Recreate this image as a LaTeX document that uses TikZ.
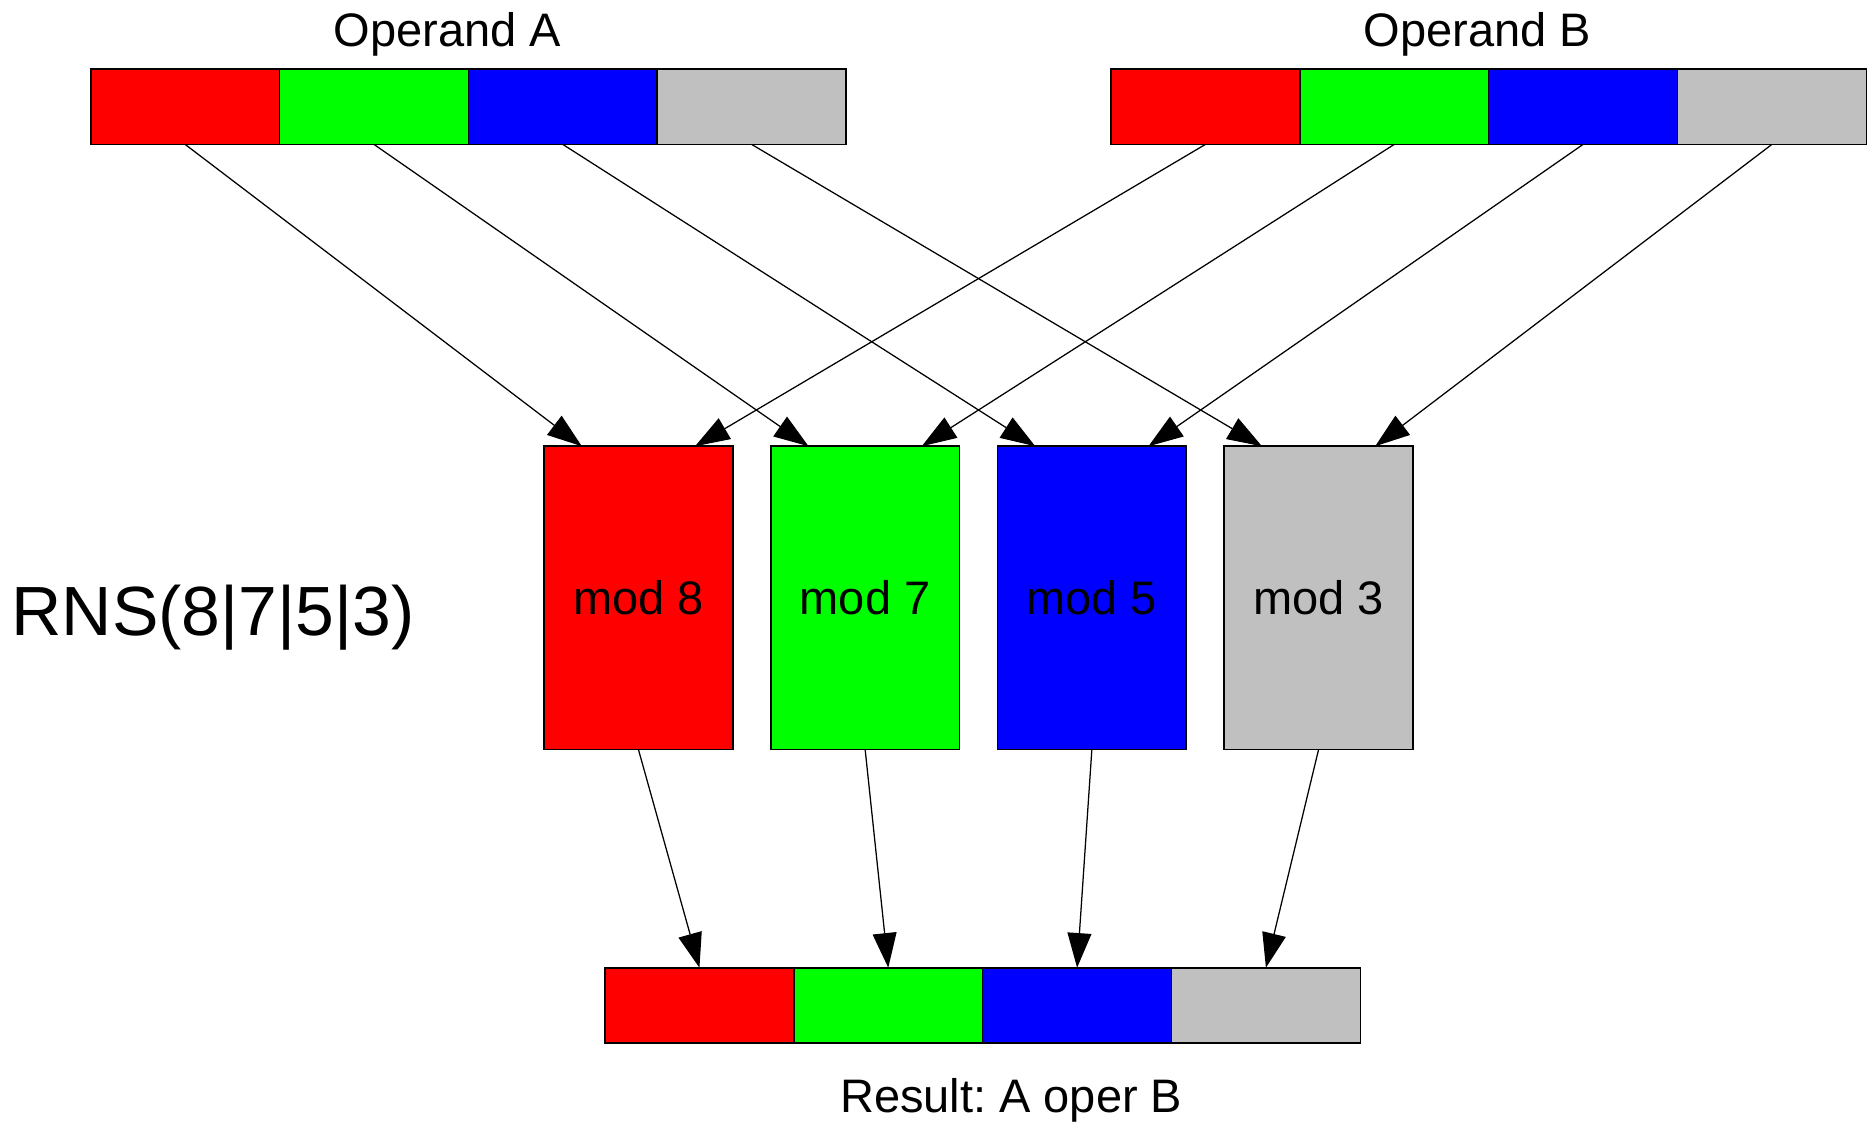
\documentclass[tikz,border=0pt]{standalone}
\usepackage{fontspec}
\setmainfont{Liberation Sans}
\usetikzlibrary{arrows.meta,calc}
\definecolor{resred}{RGB}{255,0,0}
\definecolor{resgreen}{RGB}{0,255,0}
\definecolor{resblue}{RGB}{0,0,255}
\definecolor{resgray}{RGB}{192,192,192}
\frenchspacing
\begin{document}
\begin{tikzpicture}[x=0.01cm,y=-0.01cm,
  seg/.style={draw=black, line width=0.4pt, minimum width=1.5825cm,
    minimum height=0.63cm, inner sep=0pt, outer sep=0pt, anchor=north west},
  modbox/.style={draw=black, line width=0.4pt, minimum width=1.58cm,
    minimum height=2.54cm, inner sep=0pt, outer sep=0pt, anchor=north west,
    font=\fontsize{11.2pt}{13pt}\selectfont},
  lbl/.style={font=\fontsize{11.2pt}{13pt}\selectfont, inner sep=0pt, anchor=base},
  conn/.style={line width=0.3pt, -{Triangle[length=2.9mm,width=2.0mm]}}
]
\useasboundingbox (0,0) rectangle (1568,940);

% operand A register
\foreach \i/\c in {1/resred,2/resgreen,3/resblue,4/resgray}
  \node[seg, fill=\c] (a\i) at ({76+158.25*(\i-1)},58) {};
% operand B register
\foreach \i/\c in {1/resred,2/resgreen,3/resblue,4/resgray}
  \node[seg, fill=\c] (b\i) at ({931+158.25*(\i-1)},58) {};
% result register
\foreach \i/\c in {1/resred,2/resgreen,3/resblue,4/resgray}
  \node[seg, fill=\c] (r\i) at ({507+158.25*(\i-1)},811) {};

\node[lbl] (opa) at (375,39) {Operand A};
\node[lbl] (opb) at (1238,39) {Operand B};
\node[lbl] (res) at (847.5,932) {Result: A oper B};

% modular channels
\node[modbox, fill=resred]   (m1) at (456,374) {mod 8};
\node[modbox, fill=resgreen] (m2) at (646,374) {mod 7};
\node[modbox, fill=resblue]  (m3) at (836,374) {mod 5};
\node[modbox, fill=resgray]  (m4) at (1026,374) {mod 3};

\node[font=\fontsize{16.6pt}{19pt}\selectfont, inner sep=0pt, anchor=base west]
  (rns) at (9,533) {RNS(8|7|5|3)};

% operand digits into each channel, channel outputs into the result
\foreach \i in {1,2,3,4} {
  \draw[conn] (a\i.south) -- ($(m\i.north west)!0.2!(m\i.north east)$);
  \draw[conn] (b\i.south) -- ($(m\i.north west)!0.8!(m\i.north east)$);
  \draw[conn] (m\i.south) -- (r\i.north);
}
\end{tikzpicture}
\end{document}
